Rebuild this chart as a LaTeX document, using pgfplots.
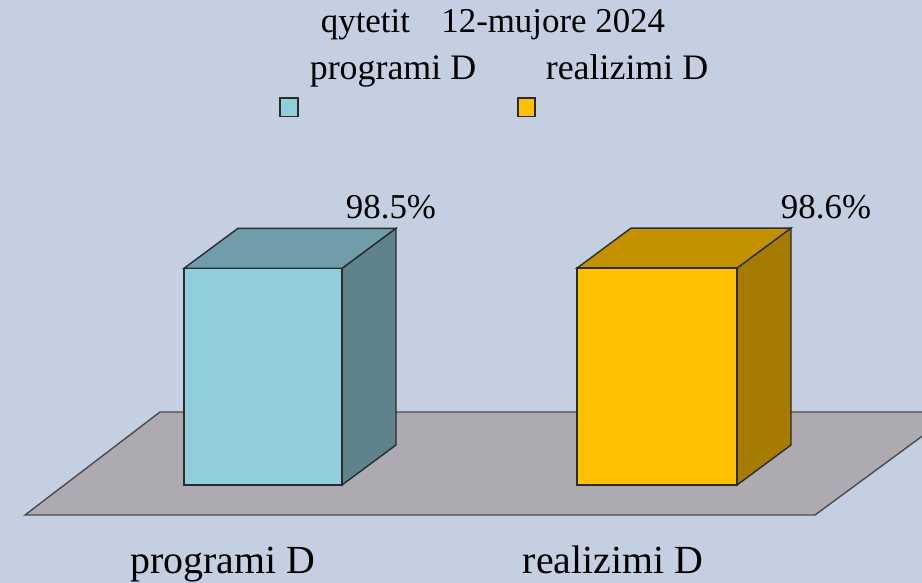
\documentclass[border=0pt]{standalone}
\usepackage{pgfplots}
\pgfplotsset{compat=1.18}
\usepackage{fontspec}
\setmainfont{Liberation Serif}
\definecolor{bg}{HTML}{C4D0E1}
\definecolor{floorc}{HTML}{AEAAB1}
\definecolor{bfront}{HTML}{92CDDC}
\definecolor{btop}{HTML}{6F9EAA}
\definecolor{bside}{HTML}{5E838C}
\definecolor{gfront}{HTML}{FFC000}
\definecolor{gtop}{HTML}{C49200}
\definecolor{gside}{HTML}{A67C00}
\definecolor{edge}{HTML}{2B2B2B}
\begin{document}
\begin{tikzpicture}
\begin{axis}[
  scale only axis, width=922bp, height=583bp,
  xmin=0, xmax=922, ymin=-44.545, ymax=220.455,
  hide axis, clip=true,
  /pgf/number format/assume math mode=true,
]
% background
\fill[bg] (rel axis cs:0,0) rectangle (rel axis cs:1,1);
% floor
\addplot[fill=floorc, draw=edge!85, line width=1.4bp] coordinates {(25,-13.64) (160,33.18) (955,33.18) (815,-13.64)} --cycle;
% bar 1 (programi D = 98.5)
\addplot[fill=bside, draw=edge, line width=1.4bp] coordinates {(342,0) (396,18.18) (396,116.68) (342,98.5)} --cycle;
\addplot[fill=btop, draw=edge, line width=1.4bp] coordinates {(184,98.5) (238,116.68) (396,116.68) (342,98.5)} --cycle;
\addplot[ybar, bar width=158, bar shift=0pt, fill=bfront, draw=edge, line width=1.4bp,
  nodes near coords={\textrm{98.5\%}},
  every node near coord/.append style={anchor=base, xshift=128bp, yshift=50bp, inner sep=0pt, text=black, font=\rmfamily\fontsize{35}{40}\selectfont}]
  coordinates {(263,98.5)};
% bar 2 (realizimi D = 98.6)
\addplot[fill=gside, draw=edge, line width=1.4bp] coordinates {(737,0) (791,18.18) (791,116.78) (737,98.6)} --cycle;
\addplot[fill=gtop, draw=edge, line width=1.4bp] coordinates {(577,98.6) (631,116.78) (791,116.78) (737,98.6)} --cycle;
\addplot[ybar, bar width=160, bar shift=0pt, fill=gfront, draw=edge, line width=1.4bp,
  nodes near coords={\textrm{98.6\%}},
  every node near coord/.append style={anchor=base, xshift=169bp, yshift=50bp, inner sep=0pt, text=black, font=\rmfamily\fontsize{35}{40}\selectfont}]
  coordinates {(657,98.6)};
% title and legend
\node[anchor=base, inner sep=0pt, font=\fontsize{35}{40}\selectfont] at (axis cs:493,205.9) {qytetit\hspace{0.9em}12-mujore 2024};
\node[anchor=base, inner sep=0pt, font=\fontsize{36}{40}\selectfont] at (axis cs:393,184.1) {programi D};
\node[anchor=base, inner sep=0pt, font=\fontsize{36}{40}\selectfont] at (axis cs:627,184.1) {realizimi D};
\draw[fill=bfront, draw=edge, line width=1.4bp] (axis cs:280,167.5) rectangle (axis cs:298,175.9);
\draw[fill=gfront, draw=edge, line width=1.4bp] (axis cs:518,167.5) rectangle (axis cs:535,175.9);
% category labels
\node[anchor=base, inner sep=0pt, font=\fontsize{40}{44}\selectfont] at (axis cs:223,-40) {programi D};
\node[anchor=base, inner sep=0pt, font=\fontsize{40}{44}\selectfont] at (axis cs:613,-40) {realizimi D};
\end{axis}
\end{tikzpicture}
\end{document}
